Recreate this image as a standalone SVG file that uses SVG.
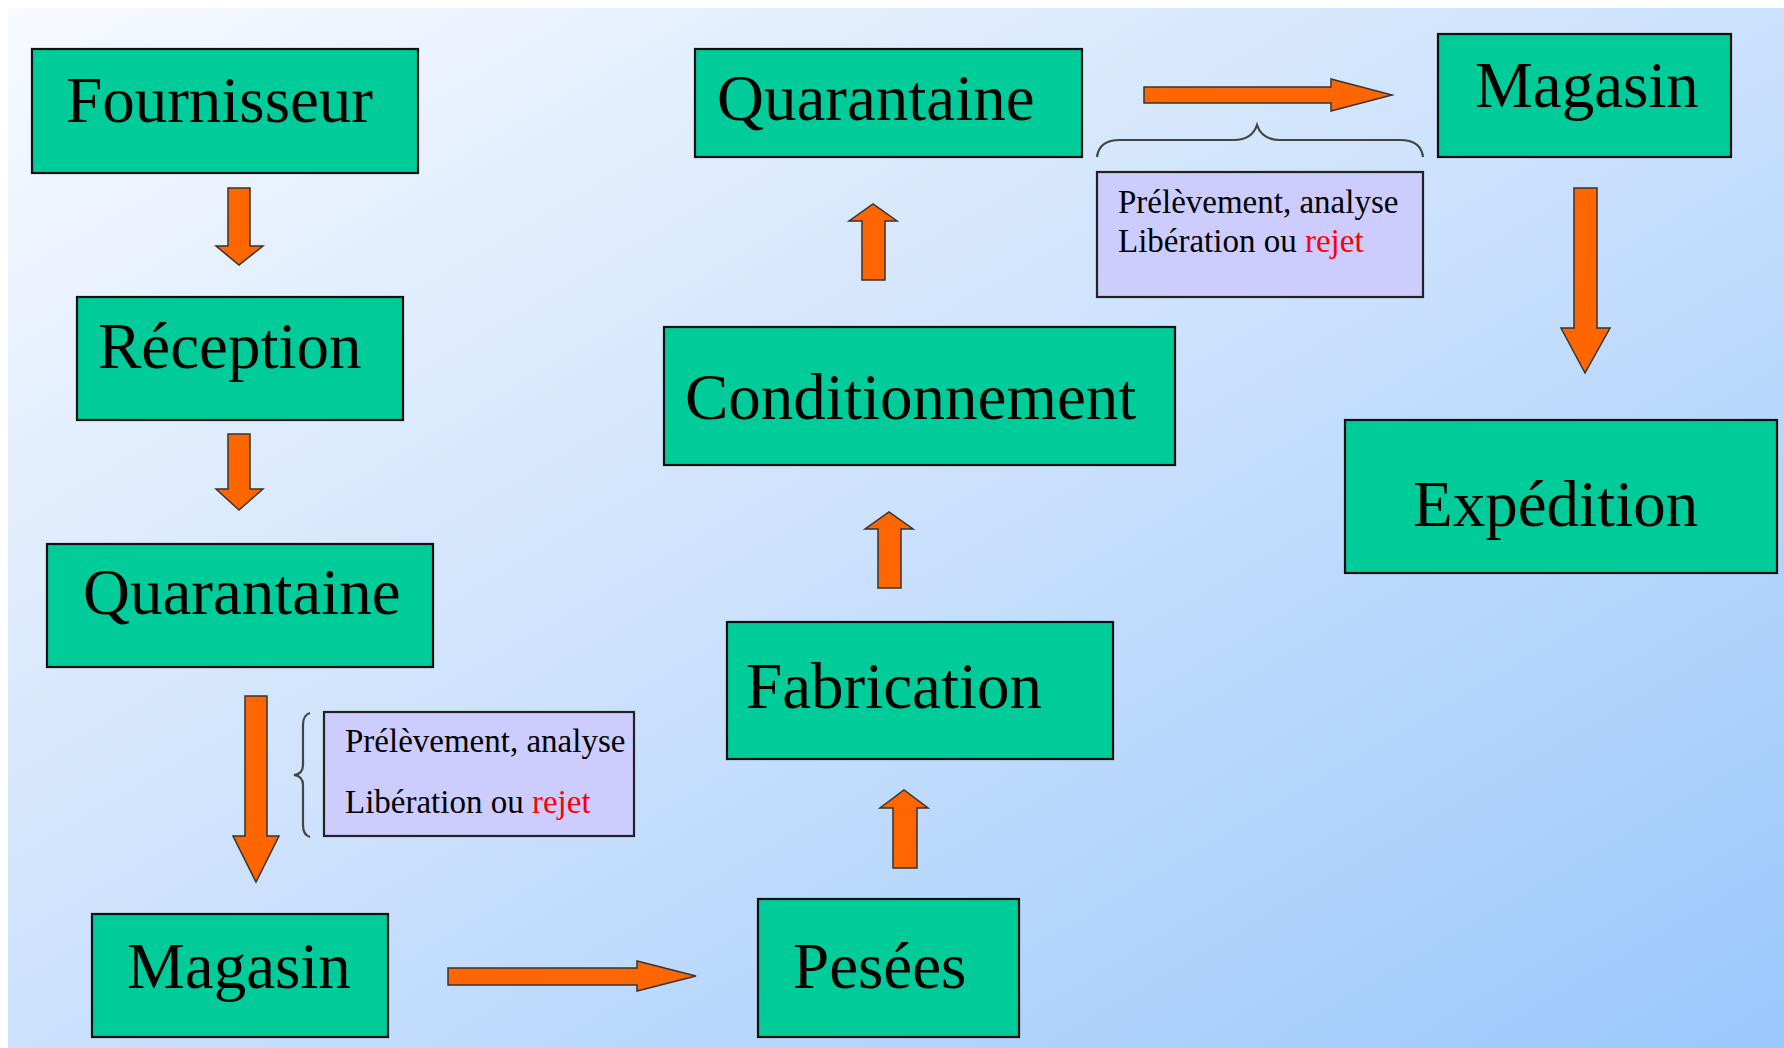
<svg xmlns="http://www.w3.org/2000/svg" width="1784" height="1048" viewBox="0 0 1784 1048">
<defs>
<linearGradient id="bg" x1="0" y1="0" x2="1" y2="1">
<stop offset="0" stop-color="#f7faff"/>
<stop offset="0.5" stop-color="#cbe1fc"/>
<stop offset="1" stop-color="#9ac8fc"/>
</linearGradient>
<style>
.box{fill:#00cc99;stroke:#111;stroke-width:2.2}
.lbl{font-family:"Liberation Serif","Times New Roman",serif;font-size:65px;fill:#000}
.note{fill:#ccccff;stroke:#222;stroke-width:2.2}
.small{font-family:"Liberation Serif","Times New Roman",serif;font-size:33px;fill:#000}
.red{fill:#ff0000}
.arr{fill:#ff6600;stroke:#333;stroke-width:1.5;stroke-linejoin:miter}
.brace{fill:none;stroke:#444;stroke-width:2.2}
</style>
</defs>
<rect x="0" y="0" width="1784" height="1048" fill="#ffffff"/>
<rect x="8" y="8" width="1776" height="1040" fill="url(#bg)"/>

<g id="connectors">
<polygon class="arr" points="228,188 250,188 250,246 263,246 239,265 216,246 228,246"/>
<polygon class="arr" points="228,434 250,434 250,489 263,489 239,510 216,489 228,489"/>
<polygon class="arr" points="245,696 267,696 267,836 279,836 256,882 233,836 245,836"/>
<polygon class="arr" points="448,968 637,968 637,961 696,976 637,991 637,985 448,985"/>
<polygon class="arr" points="893,868 917,868 917,808 928,808 904,790 880,808 893,808"/>
<polygon class="arr" points="878,588 901,588 901,529 913,529 889,512 865,529 878,529"/>
<polygon class="arr" points="862,280 885,280 885,221 897,221 873,204 849,221 862,221"/>
<polygon class="arr" points="1144,87 1331,87 1331,79 1392,95 1331,111 1331,103 1144,103"/>
<polygon class="arr" points="1574,188 1597,188 1597,328 1610,328 1585,373 1561,328 1574,328"/>
<path class="brace" d="M310,713 Q303,715 303,725 L303,765 Q303,774 294,775 Q303,776 303,785 L303,825 Q303,835 310,837"/>
<path class="brace" d="M1097,157 Q1099,140 1120,140 L1234,140 Q1252,140 1257,125 Q1262,140 1280,140 L1400,140 Q1421,140 1423,157"/>
</g>

<g id="fournisseur"><rect class="box" x="32" y="49" width="386" height="124"/><text class="lbl" x="66" y="122">Fournisseur</text></g>
<g id="reception"><rect class="box" x="77" y="297" width="326" height="123"/><text class="lbl" x="98" y="368">Réception</text></g>
<g id="quarantaine1"><rect class="box" x="47" y="544" width="386" height="123"/><text class="lbl" x="83" y="614">Quarantaine</text></g>
<g id="magasin1"><rect class="box" x="92" y="914" width="296" height="123"/><text class="lbl" x="127" y="988">Magasin</text></g>
<g id="pesees"><rect class="box" x="758" y="899" width="261" height="138"/><text class="lbl" x="793" y="988">Pesées</text></g>
<g id="fabrication"><rect class="box" x="727" y="622" width="386" height="137"/><text class="lbl" x="746" y="708">Fabrication</text></g>
<g id="conditionnement"><rect class="box" x="664" y="327" width="511" height="138"/><text class="lbl" x="685" y="419">Conditionnement</text></g>
<g id="quarantaine2"><rect class="box" x="695" y="49" width="387" height="108"/><text class="lbl" x="717" y="120">Quarantaine</text></g>
<g id="magasin2"><rect class="box" x="1438" y="34" width="293" height="123"/><text class="lbl" x="1475" y="107">Magasin</text></g>
<g id="expedition"><rect class="box" x="1345" y="420" width="432" height="153"/><text class="lbl" x="1413" y="526">Expédition</text></g>

<g id="note1"><rect class="note" x="324" y="712" width="310" height="124"/>
<text class="small" x="345" y="752">Prélèvement, analyse</text>
<text class="small" x="345" y="813">Libération ou <tspan class="red">rejet</tspan></text></g>
<g id="note2"><rect class="note" x="1097" y="172" width="326" height="125"/>
<text class="small" x="1118" y="213">Prélèvement, analyse</text>
<text class="small" x="1118" y="252">Libération ou <tspan class="red">rejet</tspan></text></g>
</svg>
